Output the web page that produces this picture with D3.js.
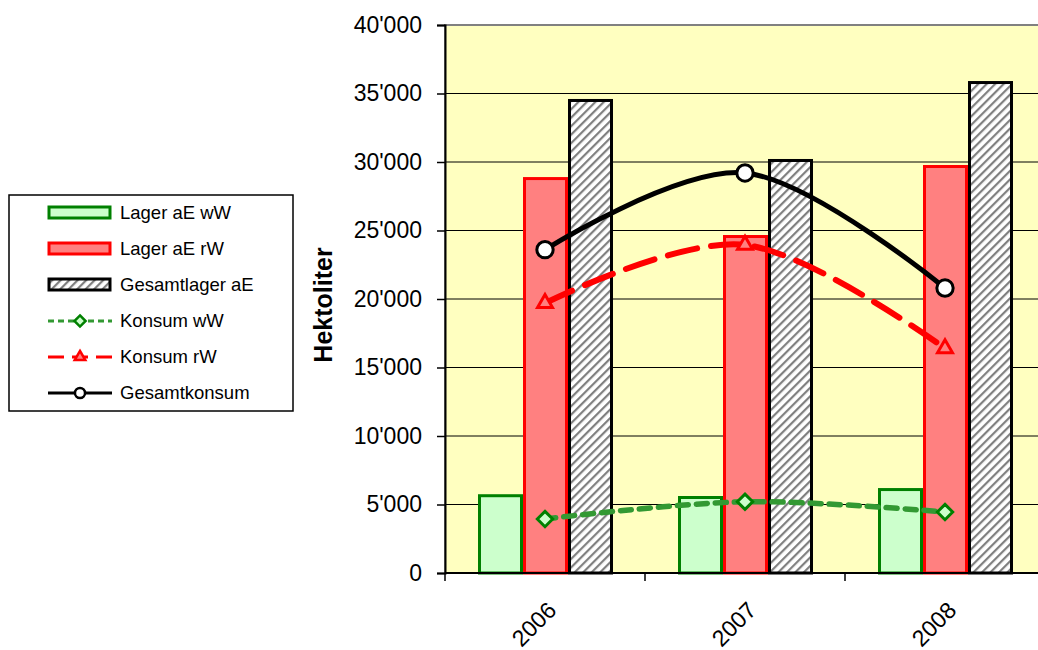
<!DOCTYPE html>
<html>
<head>
<meta charset="utf-8">
<script src="https://cdn.jsdelivr.net/npm/d3@7"></script>
<style>
  body { margin: 0; background: #fff; }
  text { font-family: "Liberation Sans", Arial, sans-serif; }
</style>
</head>
<body>
<script>
// Data
const years = ["2006", "2007", "2008"];
const lagerWW = [5750, 5620, 6200];
const lagerRW = [28900, 24670, 29780];
const gesamtLager = [34600, 30220, 35910];
const konsumWW = [3940, 5200, 4450];
const konsumRW = [19700, 23950, 16400];
const gesamtKonsum = [23600, 29200, 20800];
const yTicks = [0, 5000, 10000, 15000, 20000, 25000, 30000, 35000, 40000];

// Dimensions
const width = 1038, height = 650;
const plotLeft = 445, plotRight = 1045, plotTop = 25, plotBottom = 573;

const svg = d3.select("body").append("svg")
  .attr("width", width)
  .attr("height", height);

const defs = svg.append("defs");
const hatch = defs.append("pattern")
  .attr("id", "hatch")
  .attr("patternUnits", "userSpaceOnUse")
  .attr("width", 6)
  .attr("height", 6)
  .attr("patternTransform", "rotate(45)");
hatch.append("rect").attr("width", 6).attr("height", 6).attr("fill", "#fff");
hatch.append("rect").attr("x", 0).attr("width", 2.2).attr("height", 6).attr("fill", "#808080");

const fmt = d3.formatLocale({ thousands: "'", grouping: [3], decimal: ".", currency: ["", ""] }).format(",");

const x = d3.scaleBand().domain(years).range([plotLeft, plotRight]);
const barKeys = ["ww", "rw", "ges"];
const x1 = d3.scaleBand().domain(barKeys).range([33, 168]);
const y = d3.scaleLinear().domain([0, 40000]).range([plotBottom, plotTop]);

// plot area
svg.append("rect")
  .attr("x", plotLeft).attr("y", plotTop)
  .attr("width", plotRight - plotLeft).attr("height", plotBottom - plotTop)
  .attr("fill", "#FFFFC0")
  .attr("stroke", "#808080").attr("stroke-width", 2);

// gridlines
svg.append("g").selectAll("line")
  .data(yTicks.filter(d => d > 0 && d < 40000))
  .join("line")
  .attr("x1", plotLeft).attr("x2", plotRight)
  .attr("y1", d => y(d)).attr("y2", d => y(d))
  .attr("stroke", "#000").attr("stroke-width", 1);

// bars
const barSeries = [
  { key: "ww", values: lagerWW, fill: "#CCFFCC", stroke: "#008000" },
  { key: "rw", values: lagerRW, fill: "#FF8080", stroke: "#FF0000" },
  { key: "ges", values: gesamtLager, fill: "url(#hatch)", stroke: "#000" }
];
barSeries.forEach(s => {
  svg.append("g").selectAll("rect")
    .data(years)
    .join("rect")
    .attr("x", (d, i) => x(d) + x1(s.key) + 1.5)
    .attr("y", (d, i) => y(s.values[i]) + 1.5)
    .attr("width", x1.bandwidth() - 3)
    .attr("height", (d, i) => y(0) - y(s.values[i]) - 1.5)
    .attr("fill", s.fill)
    .attr("stroke", s.stroke)
    .attr("stroke-width", 3);
});

// y axis
const yAxis = svg.append("g")
  .attr("transform", `translate(${plotLeft},0)`)
  .call(d3.axisLeft(y).tickValues(yTicks).tickFormat(fmt).tickSize(8).tickPadding(15));
yAxis.select(".domain").attr("stroke", "#000").attr("stroke-width", 2);
yAxis.selectAll(".tick line").attr("stroke", "#000").attr("stroke-width", 1.5);
yAxis.selectAll("text").attr("font-size", 23).attr("fill", "#000")
  .style("font-family", "'Liberation Sans', Arial, sans-serif");

// x axis
const xAxisG = svg.append("g").attr("transform", `translate(0,${plotBottom})`);
xAxisG.append("line")
  .attr("x1", plotLeft).attr("x2", plotRight)
  .attr("stroke", "#000").attr("stroke-width", 2);
xAxisG.selectAll(".xt")
  .data(years)
  .join("line")
  .attr("x1", d => x(d)).attr("x2", d => x(d))
  .attr("y1", 0).attr("y2", 8)
  .attr("stroke", "#000").attr("stroke-width", 1.5);
xAxisG.selectAll("text")
  .data(years)
  .join("text")
  .attr("transform", d => `translate(${x(d) + x.bandwidth() / 2 + 7},${33}) rotate(-45)`)
  .attr("text-anchor", "end")
  .attr("dy", "0.35em")
  .attr("font-size", 23)
  .text(d => d);

// y axis title
svg.append("text")
  .attr("transform", "translate(332,305) rotate(-90)")
  .attr("text-anchor", "middle")
  .attr("font-size", 25)
  .attr("font-weight", "bold")
  .text("Hektoliter");

// lines
const line = d3.line()
  .x((d, i) => x(years[i]) + x.bandwidth() / 2)
  .y(d => y(d))
  .curve(d3.curveCardinal.tension(0));

const lineSeries = [
  { values: konsumWW, color: "#339933", dash: "11,8", width: 5.5, marker: "diamond", mfill: "#CCFFCC", mstroke: "#008000" },
  { values: konsumRW, color: "#FF0000", dash: "30,14", width: 6, marker: "triangle", mfill: "#FF8080", mstroke: "#FF0000" },
  { values: gesamtKonsum, color: "#000", dash: null, width: 5, marker: "circle", mfill: "#fff", mstroke: "#000" }
];

function markerPath(type) {
  if (type === "diamond") return d3.symbol().type(d3.symbolDiamond2).size(150)();
  if (type === "triangle") return d3.symbol().type(d3.symbolTriangle2).size(160)();
  return d3.symbol().type(d3.symbolCircle).size(210)();
}

lineSeries.forEach(s => {
  svg.append("path")
    .datum(s.values)
    .attr("fill", "none")
    .attr("stroke", s.color)
    .attr("stroke-width", s.width)
    .attr("stroke-dasharray", s.dash)
    .attr("stroke-linecap", s.dash ? "round" : "butt")
    .attr("d", line);
  svg.append("g").selectAll("path")
    .data(s.values)
    .join("path")
    .attr("d", markerPath(s.marker))
    .attr("transform", (d, i) => `translate(${x(years[i]) + x.bandwidth() / 2},${y(d)})`)
    .attr("fill", s.mfill)
    .attr("stroke", s.mstroke)
    .attr("stroke-width", 3);
});

// legend
const legend = svg.append("g");
legend.append("rect")
  .attr("x", 9).attr("y", 195).attr("width", 284).attr("height", 216)
  .attr("fill", "#fff").attr("stroke", "#000").attr("stroke-width", 1.5);

const legendItems = [
  { label: "Lager aE wW", type: "bar", s: barSeries[0] },
  { label: "Lager aE rW", type: "bar", s: barSeries[1] },
  { label: "Gesamtlager aE", type: "bar", s: barSeries[2] },
  { label: "Konsum wW", type: "line", s: lineSeries[0] },
  { label: "Konsum rW", type: "line", s: lineSeries[1] },
  { label: "Gesamtkonsum", type: "line", s: lineSeries[2] }
];
const ly = d3.scalePoint().domain(legendItems.map(d => d.label)).range([213, 393]);

legendItems.forEach(it => {
  const cy = ly(it.label);
  if (it.type === "bar") {
    legend.append("rect")
      .attr("x", 49).attr("y", cy - 6).attr("width", 61).attr("height", 11)
      .attr("fill", it.s.fill).attr("stroke", it.s.stroke).attr("stroke-width", 3);
  } else {
    legend.append("line")
      .attr("x1", 48).attr("x2", 112).attr("y1", cy).attr("y2", cy)
      .attr("stroke", it.s.color).attr("stroke-width", 3)
      .attr("stroke-dasharray", it.s.dash ? (it.s.marker === "diamond" ? "6,4" : "16,8") : null);
    legend.append("path")
      .attr("d", d3.symbol().type(it.s.marker === "diamond" ? d3.symbolDiamond2 : it.s.marker === "triangle" ? d3.symbolTriangle2 : d3.symbolCircle).size(80)())
      .attr("transform", `translate(80,${cy})`)
      .attr("fill", it.s.mfill).attr("stroke", it.s.mstroke).attr("stroke-width", 2.5);
  }
  legend.append("text")
    .attr("x", 120).attr("y", cy).attr("dy", "0.35em")
    .attr("font-size", 18.5)
    .text(it.label);
});
</script>
</body>
</html>
